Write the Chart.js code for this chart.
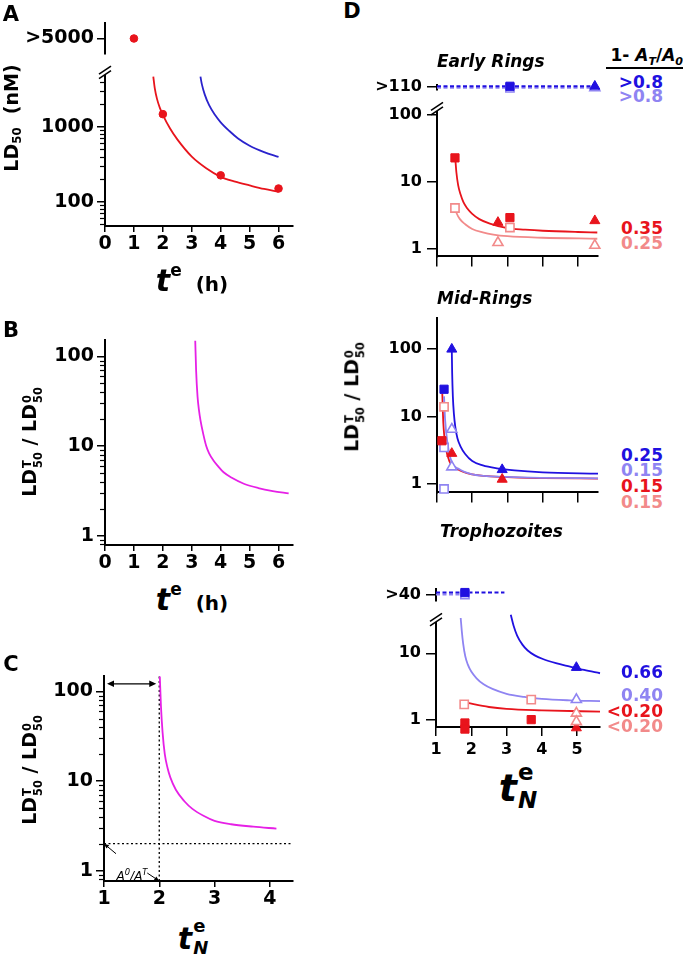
<!DOCTYPE html>
<html>
<head>
<meta charset="utf-8">
<script src="https://cdn.jsdelivr.net/npm/chart.js@4"></script>
<style>
body { margin: 0; background: #fff; }
#fig { position: relative; width: 683px; height: 961px; overflow: hidden; font-family: "DejaVu Sans", sans-serif; color: #000; }
#fig canvas { position: absolute; }
.tx { position: absolute; white-space: nowrap; line-height: 1; font-weight: bold; }
.ss { display: inline-flex; flex-direction: column; font-size: 0.6em; line-height: 0.95; vertical-align: 0.45em; margin-left: 1px; }
.sb { font-size: 0.62em; vertical-align: -0.3em; }
</style>
</head>
<body>
<div id="fig"></div>
<script>
// ---------- data ----------
// A: LD50 (nM) against t^e (h)
const aXTicks = [0, 1, 2, 3, 4, 5, 6];
const aTopX = [1];                 // shown as ">5000"
const aTopY = [5000];
const aDotX = [2, 4, 6];
const aDotY = [1480, 225, 150];
const aRedX = [1.67, 1.72, 1.8, 1.9, 2, 2.25, 2.5, 3, 3.5, 4, 4.5, 5, 5.5, 6];
const aRedY = [4700, 3300, 2350, 1780, 1450, 950, 680, 400, 280, 215, 185, 165, 148, 135];
const aBlueX = [3.3, 3.35, 3.45, 3.6, 3.8, 4, 4.3, 4.6, 5, 5.5, 6];
const aBlueY = [4700, 3700, 2700, 1950, 1450, 1150, 880, 700, 560, 460, 396];

// B: LD50T / LD50_0 against t^e (h)
const bX = [3.12, 3.15, 3.2, 3.25, 3.3, 3.4, 3.5, 3.6, 3.75, 3.9, 4.1, 4.4, 4.8, 5.3, 5.8, 6.35];
const bY = [150, 70, 35.5, 25, 19.5, 13.5, 10, 8.3, 6.9, 6.0, 5.1, 4.4, 3.8, 3.4, 3.15, 2.97];

// C: same ratio against t_N^e
const cXTicks = [1, 2, 3, 4];
const cX = [2.01, 2.03, 2.06, 2.1, 2.15, 2.2, 2.3, 2.45, 2.6, 2.8, 3, 3.3, 3.7, 4.12];
const cY = [147, 70, 35, 20, 14, 11, 8, 6, 4.9, 4.1, 3.6, 3.3, 3.1, 2.95];
const cRatio = 2;          // A0/AT level
const cSpanX = [1, 2];     // double arrow
const cSpanY = 122;

// D: Early Rings
const dXTicks = [1, 2, 3, 4, 5];
const erHigh = 113, erHighOpen = 106.5;   // ">110" row
const erHighX = [3.07, 5.48];
const erDashX = [1, 5.5];
const erRedSqX = [1.51, 3.07], erRedSqY = [22.9, 2.95];
const erRedTriX = [2.73, 5.48], erRedTriY = [2.5, 2.65];
const erPinkSqX = [1.51, 3.07], erPinkSqY = [4.1, 2.1];
const erPinkTriX = [2.73, 5.48], erPinkTriY = [1.25, 1.14];
const erRedFitX = [1.52, 1.55, 1.6, 1.67, 1.75, 1.85, 2, 2.2, 2.5, 3, 3.5, 4, 5, 5.55];
const erRedFitY = [22, 14, 9, 6.5, 5.0, 4.1, 3.35, 2.8, 2.4, 2.05, 1.95, 1.88, 1.8, 1.77];
const erPinkFitX = [1.51, 1.56, 1.65, 1.8, 2, 2.3, 2.6, 3, 4, 5.55];
const erPinkFitY = [4.1, 3.4, 2.8, 2.35, 2.0, 1.78, 1.65, 1.56, 1.48, 1.43];
const erLabels = ['>0.8', '>0.8', '0.35', '0.25'];

// D: Mid-Rings
const mrBlueSqX = [1.2], mrBlueSqY = [25.5];
const mrBlueTriX = [1.42, 2.85], mrBlueTriY = [100, 1.64];
const mrLavSqX = [1.2, 1.2], mrLavSqY = [3.5, 0.85];
const mrLavTriX = [1.42, 1.42], mrLavTriY = [6.5, 1.8];
const mrRedSqX = [1.14], mrRedSqY = [4.4];
const mrPinkSqX = [1.2], mrPinkSqY = [14];
const mrRedTriX = [1.42, 2.85], mrRedTriY = [2.85, 1.18];
const mrBlueFitX = [1.42, 1.43, 1.45, 1.48, 1.52, 1.58, 1.67, 1.8, 2, 2.3, 2.7, 3.2, 4, 5.57];
const mrBlueFitY = [100, 45, 20, 11, 7, 4.8, 3.6, 2.8, 2.2, 1.9, 1.72, 1.6, 1.5, 1.43];
const mrLavFitX = [1.2, 1.23, 1.3, 1.42, 1.6, 2, 3, 4, 5.57];
const mrLavFitY = [20, 9, 4.0, 2.1, 1.7, 1.4, 1.28, 1.24, 1.22];
const mrRedFitX = [1.15, 1.18, 1.25, 1.35, 1.6, 2, 3, 4, 5.57];
const mrRedFitY = [22, 8, 3.5, 2.2, 1.65, 1.4, 1.27, 1.23, 1.21];
const mrLabels = ['0.25', '0.15', '0.15', '0.15'];

// D: Trophozoites
const tpHigh = 42, tpHighOpen = 40;     // ">40" row
const tpHighX = [1.82];
const tpDashX = [1, 2.94], tpDashOpenX = [1, 1.82];
const tpBlueTriX = [4.98], tpBlueTriY = [6.1];
const tpLavTriX = [4.98], tpLavTriY = [2.0];
const tpPinkSqX = [1.8, 3.7], tpPinkSqY = [1.7, 2.0];
const tpRedSqX = [1.82, 1.82, 3.7], tpRedSqY = [0.89, 0.72, 1.0];
const tpPinkTriX = [4.98, 4.98], tpPinkTriY = [1.25, 0.93];
const tpRedTriX = [4.98], tpRedTriY = [0.75];
const tpBlueFitX = [3.12, 3.2, 3.3, 3.45, 3.6, 3.8, 4.03, 4.4, 4.8, 5.2, 5.65];
const tpBlueFitY = [38, 26, 18.5, 13.5, 11, 9.3, 8.2, 7.1, 6.3, 5.6, 5.0];
const tpLavFitX = [1.7, 1.73, 1.77, 1.83, 1.9, 2, 2.15, 2.35, 2.6, 3, 3.5, 4, 4.8, 5.65];
const tpLavFitY = [34, 22, 14, 9, 6.8, 5.3, 4.2, 3.4, 2.9, 2.45, 2.2, 2.05, 1.95, 1.9];
const tpRedFitX = [1.85, 2.5, 3, 4, 5.65];
const tpRedFitY = [1.8, 1.55, 1.45, 1.38, 1.32];
const tpLabels = ['0.66', '0.40', '<0.20', '<0.20'];

// ---------- styling ----------
const FONT = '"DejaVu Sans", sans-serif';
const DARK = '#2010e0', LAV = '#8f84f2', RED = '#e8141c', PINK = '#f28a8a', MAG = '#e620e6', ABLUE = '#2a22cc';
Chart.defaults.font.family = FONT;
Chart.defaults.color = '#000';

const fig = document.getElementById('fig');
const pts = (xs, ys) => xs.map((x, i) => ({ x, y: Array.isArray(ys) ? ys[i] : ys }));

function curve(xs, ys, color, extra) {
    return Object.assign({ data: pts(xs, ys), showLine: true, pointRadius: 0, borderColor: color,
        borderWidth: 1.8, cubicInterpolationMode: 'monotone', clip: false }, extra || {});
}
function marks(xs, ys, style, color, open, r) {
    return { data: pts(xs, ys), showLine: false, pointStyle: style, pointRadius: r || 5.8,
        pointBorderWidth: open ? 1.6 : 1, pointBorderColor: color,
        pointBackgroundColor: open ? '#fff' : color, clip: false };
}
function dashed(xs, y, color) {
    return { data: pts(xs, y), showLine: true, pointRadius: 0, borderColor: color, borderWidth: 2,
        borderDash: [4, 2.5], clip: false };
}

function yAxis(type, min, max, majors, size, tick, pad, fmt) {
    return {
        type, min, max,
        afterBuildTicks: s => { s.ticks = majors.map(v => ({ value: v })); },
        ticks: { callback: fmt || (v => String(v)), color: '#000', padding: pad,
            font: { size, weight: 'bold' }, autoSkip: false },
        grid: { drawOnChartArea: false, drawTicks: true, tickLength: tick, color: '#000', lineWidth: 1.5 },
        border: { display: true, color: '#000', width: 2 }
    };
}
function xAxis(min, max, ticks, size, show, tick, pad) {
    return {
        type: 'linear', min, max,
        afterBuildTicks: s => { s.ticks = ticks.map(v => ({ value: v })); },
        ticks: { display: show, color: '#000', padding: pad, font: { size, weight: 'bold' },
            autoSkip: false, maxRotation: 0 },
        grid: { drawOnChartArea: false, drawTicks: true, tickLength: tick, color: '#000', lineWidth: 1.5 },
        border: { display: true, color: '#000', width: 2 }
    };
}
const hiddenX = (min, max) => ({ type: 'linear', min, max, display: false });

function head(ctx, x0, y0, x1, y1, len, wid) {
    const a = Math.atan2(y1 - y0, x1 - x0), c = Math.cos(a), s = Math.sin(a);
    ctx.beginPath();
    ctx.moveTo(x1, y1);
    ctx.lineTo(x1 - len * c + wid * s, y1 - len * s - wid * c);
    ctx.lineTo(x1 - len * c - wid * s, y1 - len * s + wid * c);
    ctx.closePath();
    ctx.fill();
}

// minor log ticks, axis breaks and the arrows of panel C
const extras = {
    id: 'extras',
    afterDraw(chart, args, o) {
        const ctx = chart.ctx, a = chart.chartArea, ys = chart.scales.y, xs = chart.scales.x;
        ctx.save();
        ctx.strokeStyle = '#000';
        ctx.fillStyle = '#000';
        if (o.minor) {
            ctx.lineWidth = 1.2;
            for (let d = -1; d <= 4; d++) {
                for (let m = 2; m <= 9; m++) {
                    const v = m * Math.pow(10, d);
                    if (v < ys.min || v > ys.max) continue;
                    const py = Math.round(ys.getPixelForValue(v)) + 0.5;
                    ctx.beginPath(); ctx.moveTo(a.left - 5, py); ctx.lineTo(a.left, py); ctx.stroke();
                }
            }
        }
        if (o.brk) {
            const c = a.top - o.brk;
            ctx.lineWidth = 1.6;
            for (const k of [-2.2, 2.2]) {
                ctx.beginPath(); ctx.moveTo(a.left - 6, c + k + 4); ctx.lineTo(a.left + 6, c + k - 4); ctx.stroke();
            }
        }
        if (o.span) {
            const y = ys.getPixelForValue(o.span.y);
            const x0 = xs.getPixelForValue(o.span.x[0]) + 3, x1 = xs.getPixelForValue(o.span.x[1]) - 3;
            ctx.lineWidth = 1.3;
            ctx.beginPath(); ctx.moveTo(x0 + 4, y); ctx.lineTo(x1 - 4, y); ctx.stroke();
            head(ctx, x1, y, x0, y, 7, 3.2);
            head(ctx, x0, y, x1, y, 7, 3.2);
        }
        if (o.notes) {
            ctx.lineWidth = 1;
            for (const n of o.notes) {
                const tx = xs.getPixelForValue(n[0]), ty = ys.getPixelForValue(n[1]);
                const sx = tx + n[2], sy = ty + n[3];
                ctx.beginPath(); ctx.moveTo(sx, sy); ctx.lineTo(tx, ty); ctx.stroke();
                head(ctx, sx, sy, tx, ty, 5, 2.2);
            }
        }
        ctx.restore();
    }
};

function panel(area, pad, scales, datasets, opts) {
    const cv = document.createElement('canvas');
    const w = area.r - area.l + pad.l + pad.r, h = area.b - area.t + pad.t + pad.b;
    cv.width = w; cv.height = h;
    cv.style.left = (area.l - pad.l) + 'px';
    cv.style.top = (area.t - pad.t) + 'px';
    cv.style.width = w + 'px';
    cv.style.height = h + 'px';
    fig.appendChild(cv);
    const xHidden = scales.x.display === false;
    scales.y.afterFit = s => { s.width = pad.l; };
    if (!xHidden) scales.x.afterFit = s => { s.height = pad.b; };
    return new Chart(cv, {
        type: 'scatter',
        data: { datasets },
        options: {
            responsive: false, animation: false, events: [],
            layout: { autoPadding: false, padding: { left: 0, top: pad.t, right: pad.r, bottom: xHidden ? pad.b : 0 } },
            plugins: { legend: { display: false }, tooltip: { enabled: false }, extras: opts || {} },
            scales
        },
        plugins: [extras]
    });
}

// ---------- panel A ----------
panel({ l: 105, t: 17, r: 293, b: 64 }, { l: 100, t: 8, r: 12, b: 4 },
    { x: hiddenX(0, 6.5), y: yAxis('linear', 4000, 6000, [5000], 19, 8, 3, () => '>5000') },
    [marks(aTopX, aTopY, 'circle', RED, false, 3.8)]);
panel({ l: 105, t: 72, r: 293, b: 226 }, { l: 100, t: 10, r: 12, b: 30 },
    { x: xAxis(0, 6.5, aXTicks, 19, true, 6, 1), y: yAxis('logarithmic', 47.3, 4730, [100, 1000], 19, 8, 3) },
    [marks(aDotX, aDotY, 'circle', RED, false, 3.8),
     curve(aRedX, aRedY, RED), curve(aBlueX, aBlueY, ABLUE)],
    { minor: true, brk: 4 });

// ---------- panel B ----------
panel({ l: 105, t: 336, r: 293, b: 545 }, { l: 100, t: 10, r: 12, b: 30 },
    { x: xAxis(0, 6.5, aXTicks, 19, true, 6, 1), y: yAxis('logarithmic', 0.787, 151, [1, 10, 100], 19, 8, 3) },
    [curve(bX, bY, MAG)],
    { minor: true });

// ---------- panel C ----------
const cYMin = 0.767, cYMax = 147.6;
panel({ l: 104, t: 672, r: 293, b: 881 }, { l: 100, t: 10, r: 12, b: 30 },
    { x: xAxis(1, 4.42, cXTicks, 19, true, 6, 1), y: yAxis('logarithmic', cYMin, cYMax, [1, 10, 100], 19, 8, 3) },
    [curve(cX, cY, MAG),
     { data: pts([1, 4.42], cRatio), showLine: true, pointRadius: 0, borderColor: '#000', borderWidth: 1.3, borderDash: [2, 2.5], clip: false },
     { data: pts([2, 2], [cYMin, cYMax]), showLine: true, pointRadius: 0, borderColor: '#000', borderWidth: 1.3, borderDash: [2, 2.5], clip: false }],
    { minor: true, span: { x: cSpanX, y: cSpanY }, notes: [[1, cRatio, 12, 10], [2, cYMin, -12, -8]] });

// ---------- panel D ----------
// Early Rings
panel({ l: 437, t: 78, r: 598, b: 101 }, { l: 92, t: 8, r: 6, b: 3 },
    { x: hiddenX(1, 5.57), y: yAxis('linear', 100, 120, [110], 16, 10, 5, () => '>110') },
    [marks(erHighX.slice(0, 1), erHigh, 'rect', DARK, false),
     marks(erHighX.slice(1), erHigh, 'triangle', DARK, false),
     marks(erHighX.slice(0, 1), erHighOpen, 'rect', LAV, true),
     marks(erHighX.slice(1), erHighOpen, 'triangle', LAV, true),
     dashed(erDashX, erHigh, DARK), dashed(erDashX, erHighOpen, LAV)]);
panel({ l: 437, t: 107, r: 598, b: 257 }, { l: 92, t: 10, r: 6, b: 14 },
    { x: xAxis(1, 5.57, dXTicks, 16, false, 10, 0), y: yAxis('logarithmic', 0.78, 112, [1, 10, 100], 16, 10, 5) },
    [marks(erRedSqX, erRedSqY, 'rect', RED, false),
     marks(erRedTriX, erRedTriY, 'triangle', RED, false),
     marks(erPinkSqX, erPinkSqY, 'rect', PINK, true),
     marks(erPinkTriX, erPinkTriY, 'triangle', PINK, true),
     curve(erRedFitX, erRedFitY, RED), curve(erPinkFitX, erPinkFitY, PINK)],
    { brk: 3 });

// Mid-Rings
panel({ l: 437, t: 313, r: 598, b: 493 }, { l: 92, t: 10, r: 6, b: 14 },
    { x: xAxis(1, 5.57, dXTicks, 16, false, 10, 0), y: yAxis('logarithmic', 0.755, 294, [1, 10, 100], 16, 10, 5) },
    [marks(mrBlueTriX, mrBlueTriY, 'triangle', DARK, false),
     marks(mrBlueSqX, mrBlueSqY, 'rect', DARK, false),
     marks(mrRedTriX, mrRedTriY, 'triangle', RED, false),
     marks(mrRedSqX, mrRedSqY, 'rect', RED, false),
     marks(mrLavTriX, mrLavTriY, 'triangle', LAV, true),
     marks(mrLavSqX, mrLavSqY, 'rect', LAV, true),
     marks(mrPinkSqX, mrPinkSqY, 'rect', PINK, true),
     curve(mrBlueFitX, mrBlueFitY, DARK), curve(mrLavFitX, mrLavFitY, LAV), curve(mrRedFitX, mrRedFitY, RED)]);

// Trophozoites
panel({ l: 436, t: 582, r: 600, b: 612 }, { l: 92, t: 8, r: 6, b: 3 },
    { x: hiddenX(1, 5.65), y: yAxis('linear', 34, 46, [40], 16, 10, 5, () => '>40') },
    [marks(tpHighX, tpHigh, 'rect', DARK, false),
     marks(tpHighX, tpHighOpen, 'rect', LAV, true),
     dashed(tpDashX, tpHigh, DARK), dashed(tpDashOpenX, tpHighOpen, LAV)]);
panel({ l: 436, t: 618, r: 600, b: 727 }, { l: 92, t: 10, r: 6, b: 30 },
    { x: xAxis(1, 5.65, dXTicks, 16, true, 9, 4), y: yAxis('logarithmic', 0.774, 29, [1, 10], 16, 10, 5) },
    [marks(tpBlueTriX, tpBlueTriY, 'triangle', DARK, false),
     marks(tpLavTriX, tpLavTriY, 'triangle', LAV, true),
     marks(tpPinkSqX, tpPinkSqY, 'rect', PINK, true),
     marks(tpRedSqX, tpRedSqY, 'rect', RED, false),
     marks(tpPinkTriX, tpPinkTriY, 'triangle', PINK, true),
     marks(tpRedTriX, tpRedTriY, 'triangle', RED, false),
     curve(tpBlueFitX, tpBlueFitY, DARK), curve(tpLavFitX, tpLavFitY, LAV), curve(tpRedFitX, tpRedFitY, RED)],
    { brk: 3 });

// ---------- text ----------
function txt(html, x, y, css, anchor) {
    const d = document.createElement('div');
    d.className = 'tx';
    d.innerHTML = html;
    d.style.left = x + 'px';
    d.style.top = y + 'px';
    const tr = { c: 'translate(-50%,-50%)', r: 'translate(-100%,-50%)', l: 'translate(0,-50%)',
        v: 'translate(-50%,-50%) rotate(-90deg)' };
    d.style.transform = tr[anchor || 'c'];
    if (css) d.style.cssText += css;
    fig.appendChild(d);
    return d;
}
const ratio = 'LD<span class="ss"><span>T</span><span>50</span></span> / LD<span class="ss"><span>0</span><span>50</span></span>';
const tH = '<i style="font-size:30px">t</i><span style="font-size:17px;vertical-align:15px">e</span>&nbsp;&nbsp;(h)';
const tN = fs => '<i style="font-size:' + fs + 'px">t</i><span class="ss" style="font-size:' + Math.round(fs * 0.6) +
    'px;line-height:1.2;vertical-align:' + Math.round(fs * 0.55) + 'px"><span>e</span><i>N</i></span>';

txt('A', 11, 14, 'font-size:21px');
txt('B', 11, 330, 'font-size:21px');
txt('C', 11, 664, 'font-size:21px');
txt('D', 352, 11, 'font-size:21px');

txt('LD<span class="sb">50</span>&nbsp;&nbsp;(nM)', 13, 118, 'font-size:19px', 'v');
txt(ratio, 32, 442, 'font-size:19px', 'v');
txt(ratio, 32, 770, 'font-size:19px', 'v');
txt(ratio, 354, 397, 'font-size:19px', 'v');

txt(tH, 192, 279, 'font-size:20px');
txt(tH, 192, 598, 'font-size:20px');
txt(tN(30), 193, 937, 'font-size:20px');
txt(tN(38), 518, 787, 'font-size:20px');

txt('A<sup style="font-size:0.7em">0</sup>/A<sup style="font-size:0.7em">T</sup>', 132, 875,
    'font-size:12px;font-weight:normal;font-style:italic');

txt('Early Rings', 437, 61, 'font-size:17px;font-style:italic', 'l');
txt('Mid-Rings', 437, 298, 'font-size:17px;font-style:italic', 'l');
txt('Trophozoites', 440, 531, 'font-size:17px;font-style:italic', 'l');

txt('1- <i>A<sub style="font-size:0.65em">T</sub></i>/<i>A<sub style="font-size:0.65em">0</sub></i>', 683, 57,
    'font-size:17px', 'r');
const rule = document.createElement('div');
rule.style.cssText = 'position:absolute;left:606px;top:67px;width:77px;height:1.5px;background:#000';
fig.appendChild(rule);

const labX = 663;
const esc = s => s.replace('<', '&lt;').replace('>', '&gt;');
const erCol = [DARK, LAV, RED, PINK], erY = [82, 96, 228, 243];
erLabels.forEach((s, i) => txt(esc(s), labX, erY[i], 'font-size:17px;color:' + erCol[i], 'r'));
const mrCol = [DARK, LAV, RED, PINK], mrY = [455, 470, 486, 502];
mrLabels.forEach((s, i) => txt(esc(s), labX, mrY[i], 'font-size:17px;color:' + mrCol[i], 'r'));
const tpCol = [DARK, LAV, RED, PINK], tpY = [672, 695, 711, 726];
tpLabels.forEach((s, i) => txt(esc(s), labX, tpY[i], 'font-size:17px;color:' + tpCol[i], 'r'));
</script>
</body>
</html>
